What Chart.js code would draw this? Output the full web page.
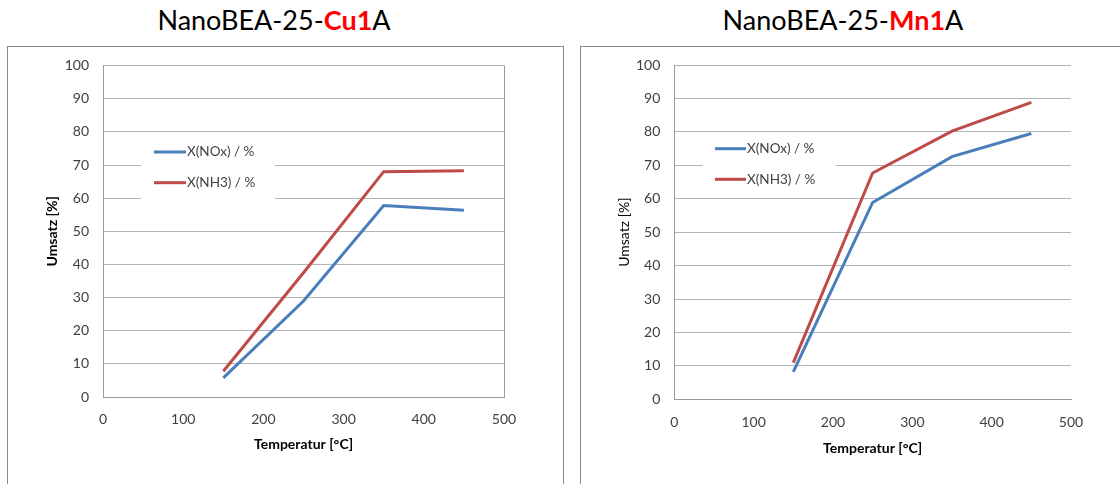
<!DOCTYPE html>
<html>
<head>
<meta charset="utf-8">
<script src="https://cdn.jsdelivr.net/npm/chart.js@4.4.1/dist/chart.umd.min.js"></script>
<style>
  html, body { margin: 0; padding: 0; background: #fff; width: 1120px; height: 484px; overflow: hidden; }
  .title { position: absolute; top: 3px; font-family: Lato, "Open Sans", sans-serif; font-size: 27px; color: #000; white-space: nowrap; transform: translateX(-50%); }
  .title b { color: #ff0000; }
  .frame { position: absolute; top: 46px; border: 1px solid #8a8a8a; box-sizing: border-box; }
  canvas { position: absolute; }
</style>
</head>
<body>
<div class="title" style="left:274px">NanoBEA-25-<b>Cu1</b>A</div>
<div class="title" style="left:843px">NanoBEA-25-<b>Mn1</b>A</div>
<div class="frame" style="left:7px; width:557px; height:460px;"></div>
<div class="frame" style="left:580px; width:560px; height:460px;"></div>
<canvas id="c1" style="left:8px; top:47px;"></canvas>
<canvas id="c2" style="left:581px; top:47px;"></canvas>
<script>
// ---- data ----
const temperatures = [150, 250, 350, 450];
const cuNOx = [5.8, 29.0, 57.8, 56.4];
const cuNH3 = [7.8, 37.5, 68.0, 68.3];
const mnNOx = [8.2, 58.9, 72.6, 79.5];
const mnNH3 = [11.0, 67.7, 80.2, 88.8];
const seriesLabels = ['X(NOx) / %', 'X(NH3) / %'];
const xTickValues = [0, 100, 200, 300, 400, 500];
const yTickValues = [0, 10, 20, 30, 40, 50, 60, 70, 80, 90, 100];
const xAxisTitle = 'Temperatur [°C]';
const yAxisTitle = 'Umsatz [%]';

const BLUE = '#4a7ebb';
const RED = '#be4b48';
const FONT = 'Lato, "Open Sans", sans-serif';

function pts(xs, ys) { return xs.map((x, i) => ({ x: x, y: ys[i] })); }

const legendPlugin = {
  id: 'boxLegend',
  afterDraw(chart, args, opts) {
    const ctx = chart.ctx;
    ctx.save();
    ctx.fillStyle = '#fff';
    ctx.fillRect(opts.box[0], opts.box[1], opts.box[2], opts.box[3]);
    chart.data.datasets.forEach((ds, i) => {
      const y = opts.rows[i];
      ctx.strokeStyle = ds.borderColor;
      ctx.lineWidth = 3;
      ctx.beginPath();
      ctx.moveTo(opts.lineX[0], y);
      ctx.lineTo(opts.lineX[1], y);
      ctx.stroke();
      ctx.fillStyle = '#404040';
      ctx.font = '13.5px ' + FONT;
      ctx.textBaseline = 'middle';
      ctx.textAlign = 'left';
      ctx.fillText(ds.label, opts.lineX[1] + 1, y);
    });
    ctx.restore();
  }
};

const frameBorderPlugin = {
  id: 'plotRightBorder',
  afterDatasetsDraw(chart, args, opts) {
    if (!opts.enabled) return;
    const a = chart.chartArea, ctx = chart.ctx;
    ctx.save();
    ctx.strokeStyle = '#9a9a9a';
    ctx.lineWidth = 1;
    ctx.beginPath();
    ctx.moveTo(Math.round(a.right) + 0.5, a.top);
    ctx.lineTo(Math.round(a.right) + 0.5, a.bottom);
    ctx.stroke();
    ctx.restore();
  }
};

function makeChart(id, w, h, nox, nh3, g) {
  const cv = document.getElementById(id);
  cv.width = w; cv.height = h;
  cv.style.width = w + 'px'; cv.style.height = h + 'px';
  return new Chart(cv, {
    type: 'line',
    data: {
      datasets: [
        { label: seriesLabels[0], data: pts(temperatures, nox), borderColor: BLUE, backgroundColor: BLUE, borderWidth: 3, pointRadius: 0, tension: 0 },
        { label: seriesLabels[1], data: pts(temperatures, nh3), borderColor: RED, backgroundColor: RED, borderWidth: 3, pointRadius: 0, tension: 0 }
      ]
    },
    options: {
      responsive: false,
      animation: false,
      devicePixelRatio: 1,
      layout: { padding: g.padding },
      plugins: {
        legend: { display: false },
        tooltip: { enabled: false },
        boxLegend: g.legend,
        plotRightBorder: { enabled: g.rightBorder }
      },
      scales: {
        x: {
          type: 'linear', min: 0, max: 500,
          afterBuildTicks: s => { s.ticks = xTickValues.map(v => ({ value: v })); },
          afterFit: s => { s.height = 70; s.paddingLeft = 0; s.paddingRight = 0; },
          grid: { display: false, drawTicks: false },
          border: { display: true, color: '#9a9a9a', width: 1 },
          ticks: { padding: g.xTickPad, color: '#404040', font: { family: FONT, size: 14 }, maxRotation: 0 },
          title: { display: true, text: xAxisTitle, color: '#000', font: { family: FONT, size: 14, weight: 'bold' }, padding: { top: 0, bottom: g.xTitlePad } }
        },
        y: {
          type: 'linear', min: 0, max: 100,
          afterBuildTicks: s => { s.ticks = yTickValues.map(v => ({ value: v })); },
          afterFit: s => { s.width = g.yWidth; s.paddingTop = 0; s.paddingBottom = 0; },
          grid: { color: '#b4b4b4', lineWidth: 1, drawTicks: false },
          border: { display: true, color: '#9a9a9a', width: 1 },
          ticks: { padding: 14, color: '#404040', font: { family: FONT, size: 14 } },
          title: { display: true, text: yAxisTitle, color: '#000', font: { family: FONT, size: 14, weight: g.yTitleWeight }, padding: { top: g.yTitlePad, bottom: 0 } }
        }
      }
    },
    plugins: [legendPlugin, frameBorderPlugin]
  });
}

makeChart('c1', 554, 437, cuNOx, cuNH3, {
  padding: { left: 0, top: 18.6, right: 58, bottom: 16.9 },
  yWidth: 95, xTickPad: 14, xTitlePad: 14.3, yTitlePad: 36.3, yTitleWeight: 'bold', rightBorder: true,
  legend: { box: [133, 87, 134, 67], lineX: [146, 178], rows: [105, 135.7] }
});
makeChart('c2', 539, 437, mnNOx, mnNH3, {
  padding: { left: 0, top: 18, right: 49, bottom: 14.6 },
  yWidth: 93.3, xTickPad: 15, xTitlePad: 12.6, yTitlePad: 34.6, yTitleWeight: 'normal', rightBorder: false,
  legend: { box: [122, 90, 133, 56], lineX: [134, 165], rows: [101.7, 132.3] }
});
</script>
</body>
</html>
